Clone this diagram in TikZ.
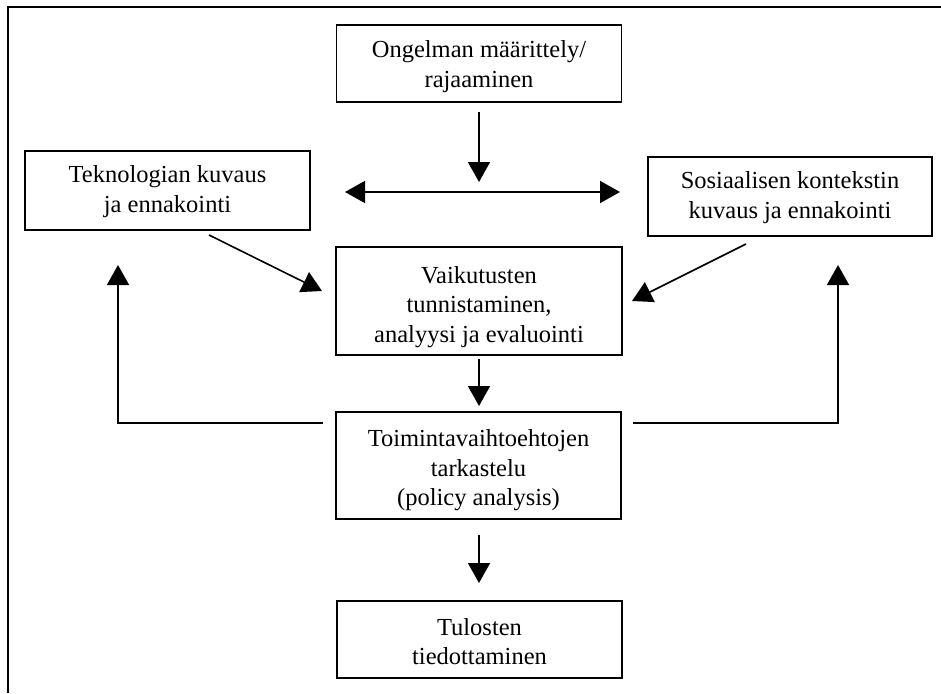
\documentclass[tikz,border=0pt]{standalone}
\usepackage{fontspec}
\setmainfont{Liberation Serif}
\usetikzlibrary{arrows.meta}
\begin{document}
\begin{tikzpicture}[x=1pt,y=-1pt,
  box/.style={draw,line width=1.6pt,inner sep=0pt,minimum width=285pt},
  txt/.style={inner sep=0pt,align=center,font=\fontsize{24.5}{29.5}\selectfont},
  conn/.style={line width=1.6pt,-{Triangle[length=20pt,width=22pt]}},
  dconn/.style={line width=1.6pt,{Triangle[length=20pt,width=22pt]}-{Triangle[length=20pt,width=22pt]}},
  frame/.style={line width=2pt}
]
\useasboundingbox (0,0) rectangle (941,693);
\coordinate (fb) at (7.5,693);
\coordinate (fc) at (7.5,7.5);
\coordinate (fr) at (941,7.5);
\draw[frame] (fb) -- (fc) -- (fr);

\node[box,minimum height=77pt,label={[txt,yshift=-3pt]center:Ongelman määrittely/\\rajaaminen}] (A) at (479,63.5) {};
\node[box,minimum height=79pt,label={[txt,yshift=-1pt]center:Teknologian kuvaus\\ja ennakointi}] (T) at (167.5,190.5) {};
\node[box,minimum width=284pt,minimum height=79pt,label={[txt,yshift=-1pt]center:Sosiaalisen kontekstin\\kuvaus ja ennakointi}] (S) at (790,196.5) {};
\node[box,minimum width=286pt,minimum height=108pt,label={[txt,yshift=-6pt]center:Vaikutusten\\tunnistaminen,\\analyysi ja evaluointi}] (V) at (479,301) {};
\node[box,minimum height=107pt,label={[txt,yshift=-5pt]center:Toimintavaihtoehtojen\\tarkastelu\\(policy analysis)}] (P) at (478.5,465.5) {};
\node[box,minimum height=77pt,label={[txt,yshift=-2pt]center:Tulosten\\tiedottaminen}] (R) at (479.5,639.5) {};

% coordinates for connector ends
\coordinate (a1) at (479,112);
\coordinate (a2) at (479,182);
\coordinate (hl) at (345,192);
\coordinate (hr) at (620,192);
\coordinate (t1) at (209,235);
\coordinate (t2) at (322,291);
\coordinate (s1) at (746,244);
\coordinate (s2) at (632,301);
\coordinate (v1) at (479,359);
\coordinate (v2) at (479,406);
\coordinate (p1) at (479,535);
\coordinate (p2) at (479,583);
\coordinate (pl) at (323,423);
\coordinate (lc) at (118,423);
\coordinate (lt) at (118,265);
\coordinate (pr) at (633,423);
\coordinate (rc) at (838,423);
\coordinate (rt) at (838,265);

\draw[conn] (a1) -- (a2);
\draw[dconn] (hl) -- (hr);
\draw[conn] (t1) -- (t2);
\draw[conn] (s1) -- (s2);
\draw[conn] (v1) -- (v2);
\draw[conn] (p1) -- (p2);
\draw[conn] (pl) -- (lc) -- (lt);
\draw[conn] (pr) -- (rc) -- (rt);
\end{tikzpicture}
\end{document}
